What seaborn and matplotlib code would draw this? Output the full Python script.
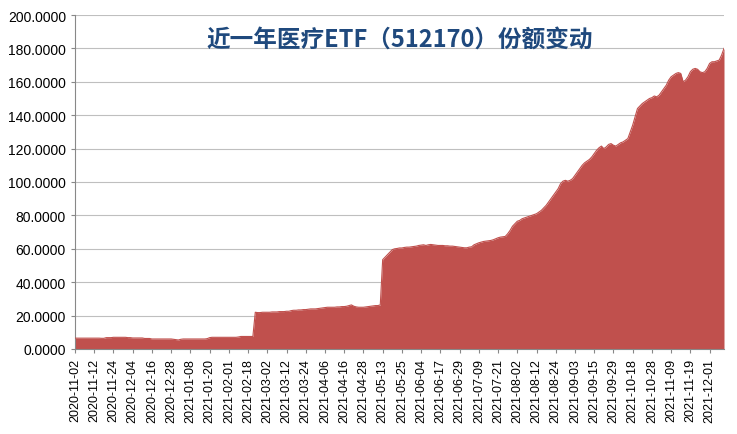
import matplotlib
matplotlib.use("Agg")
import matplotlib.pyplot as plt
import seaborn as sns
import numpy as np

tick_labels = ["2020-11-02","2020-11-12","2020-11-24","2020-12-04","2020-12-16","2020-12-28",
"2021-01-08","2021-01-20","2021-02-01","2021-02-18","2021-03-02","2021-03-12","2021-03-24",
"2021-04-06","2021-04-16","2021-04-28","2021-05-13","2021-05-25","2021-06-04","2021-06-17",
"2021-06-29","2021-07-09","2021-07-21","2021-08-02","2021-08-12","2021-08-24","2021-09-03",
"2021-09-15","2021-09-29","2021-10-18","2021-10-28","2021-11-09","2021-11-19","2021-12-01"]

shares = [
6.5,6.5,6.5,6.5,6.5,6.5,6.5,6.5,
6.5,6.5,6.5,6.4,6.4,6.8,6.8,6.8,
7.0,7.0,7.0,7.0,7.0,7.0,6.8,6.8,
6.6,6.6,6.6,6.6,6.6,6.3,6.3,6.3,
6.0,6.0,6.0,6.0,6.0,6.0,6.0,6.0,
6.0,5.8,5.6,5.4,5.8,6.0,6.0,6.0,
6.0,6.0,6.0,6.0,6.0,6.0,6.0,6.2,
6.8,7.0,7.0,7.0,7.0,7.0,7.0,7.0,
7.0,7.0,7.0,7.0,7.2,7.5,7.5,7.5,
7.5,7.5,7.5,22.0,21.8,21.8,22.0,22.0,
22.0,22.0,22.2,22.2,22.2,22.4,22.4,22.4,
22.6,22.6,23.0,23.2,23.2,23.4,23.4,23.6,
23.6,23.8,24.0,24.0,24.0,24.2,24.4,24.6,
24.8,25.0,25.0,25.0,25.0,25.2,25.2,25.4,
25.4,25.6,26.0,26.4,25.6,25.2,25.0,25.0,
25.0,25.2,25.4,25.6,25.8,26.0,26.0,26.4,
53.5,55.0,56.5,58.0,59.5,60.0,60.2,60.5,
60.5,60.8,61.0,61.0,61.2,61.4,61.6,62.0,
62.2,62.4,62.0,62.4,62.6,62.4,62.2,62.0,
62.0,62.0,61.8,61.8,61.6,61.6,61.4,61.2,
61.0,60.8,60.6,60.6,61.0,61.2,62.4,63.0,
63.6,64.0,64.4,64.6,64.8,65.0,65.4,66.0,
66.6,67.0,67.2,67.4,69.0,71.0,73.5,75.0,
76.5,77.0,78.0,78.5,79.0,79.5,80.0,80.5,
81.0,82.0,83.0,84.5,86.0,88.0,90.0,92.0,
94.0,96.0,99.0,100.5,101.0,100.5,101.0,102.0,
104.0,106.0,108.0,110.0,111.5,112.5,113.5,115.0,
117.0,119.0,120.5,121.5,120.0,121.0,122.5,123.0,
122.0,121.5,122.5,123.5,124.0,125.0,126.0,130.0,
134.0,139.0,144.0,145.5,147.0,148.0,149.0,150.0,
150.5,151.5,151.0,152.0,154.0,156.0,158.0,161.0,
163.0,164.0,165.0,165.5,165.0,160.0,161.0,163.0,
166.0,167.5,168.0,167.5,166.0,165.5,166.0,168.0,
171.0,172.0,172.0,172.5,173.0,176.0,180.0]

title = "近一年医疗ETF（512170）份额变动"
color = "#C0504D"

plt.rcParams["font.family"] = ["Noto Sans CJK SC", "DejaVu Sans"]
fig = plt.figure(figsize=(7.37, 4.35), dpi=100)
ax = fig.add_axes([75/737, 1-350/435, (724-75)/737, (350-16)/435])
x = np.arange(len(shares))
ax.fill_between(x, shares, color=color, linewidth=0, zorder=2)
sns.lineplot(x=x, y=shares, ax=ax, color=color, linewidth=0.8, zorder=3)
ax.set_xlim(0, len(shares)-1)
ax.set_ylim(0, 200)
ax.set_yticks(np.arange(0, 201, 20))
ax.set_yticklabels([f"{v:.4f}" for v in np.arange(0, 201, 20)], fontsize=10, fontfamily="Liberation Sans")
ax.set_xticks(np.arange(0, 8*len(tick_labels), 8))
ax.set_xticklabels(tick_labels, rotation=90, fontsize=9, fontfamily="Liberation Sans")
ax.grid(axis="y", color="#BFBFBF", linewidth=0.8, zorder=0)
ax.set_axisbelow(True)
for s in ["top", "right"]:
    ax.spines[s].set_visible(False)
ax.spines["left"].set_color("#888888")
ax.spines["bottom"].set_color("#888888")
ax.tick_params(length=3, color="#888888")
ax.text(0.5, 0.93, title, transform=ax.transAxes, ha="center", va="center",
        fontsize=17, fontweight="bold", color="#1F497D")
fig.savefig("out.png", dpi=100)
